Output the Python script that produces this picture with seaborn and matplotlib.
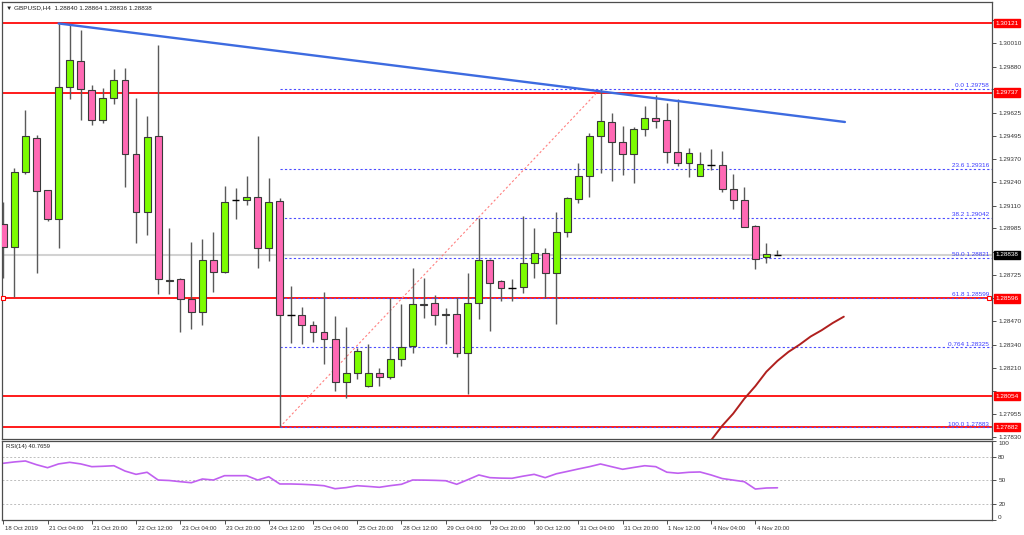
import matplotlib
matplotlib.use("Agg")
import matplotlib.pyplot as plt
import matplotlib.transforms as mtransforms
import seaborn as sns
import pandas as pd
import numpy as np

sns.set_theme(style="white")
plt.rcParams["font.family"] = ["Liberation Sans", "DejaVu Sans"]

# GBPUSD H4 candles, bar 0 = 18 Oct 12:00
opens = [1.29007, 1.28883, 1.29295, 1.29484, 1.29195, 1.29035, 1.29770, 1.29912, 1.29751, 1.29585,
         1.29705, 1.29808, 1.29398, 1.29073, 1.29496, 1.28694, 1.28702, 1.28593, 1.28523, 1.28811,
         1.28741, 1.29142, 1.29140, 1.29160, 1.28876, 1.29136, 1.28505, 1.28504, 1.28447, 1.28412,
         1.28370, 1.28131, 1.28185, 1.28112, 1.28185, 1.28159, 1.28260, 1.28333, 1.28567, 1.28573,
         1.28504, 1.28512, 1.28292, 1.28569, 1.28809, 1.28693, 1.28656, 1.28658, 1.28791, 1.28846,
         1.28735, 1.28966, 1.29147, 1.29276, 1.29496, 1.29572, 1.29461, 1.29397, 1.29534, 1.29596,
         1.29583, 1.29406, 1.29345, 1.29276, 1.29337, 1.29336, 1.29203, 1.29142, 1.28998, 1.28826,
         1.28840]
highs = [1.29132, 1.29317, 1.29640, 1.29502, 1.29197, 1.30120, 1.30111, 1.30084, 1.29781, 1.29762,
         1.29866, 1.29872, 1.29705, 1.29607, 1.30001, 1.28985, 1.28711, 1.28911, 1.28924, 1.28966,
         1.29219, 1.29210, 1.29275, 1.29496, 1.29265, 1.29151, 1.28665, 1.28550, 1.28473, 1.28630,
         1.28500, 1.28439, 1.28320, 1.28342, 1.28212, 1.28597, 1.28564, 1.28763, 1.28711, 1.28614,
         1.28541, 1.28606, 1.28735, 1.29043, 1.28815, 1.28698, 1.28705, 1.29053, 1.28988, 1.28874,
         1.29073, 1.29160, 1.29345, 1.29515, 1.29758, 1.29625, 1.29552, 1.29548, 1.29663, 1.29724,
         1.29681, 1.29700, 1.29428, 1.29406, 1.29424, 1.29413, 1.29284, 1.29212, 1.29003, 1.28905,
         1.28864]
lows = [1.28709, 1.28606, 1.29286, 1.28735, 1.29025, 1.28874, 1.29700, 1.29585, 1.29557, 1.29570,
        1.29672, 1.29215, 1.28902, 1.28948, 1.28621, 1.28621, 1.28412, 1.28427, 1.28449, 1.28633,
        1.28737, 1.29035, 1.29114, 1.28763, 1.28805, 1.27883, 1.28347, 1.28342, 1.28353, 1.28231,
        1.28085, 1.28042, 1.28150, 1.28107, 1.28112, 1.28150, 1.28222, 1.28292, 1.28486, 1.28449,
        1.28344, 1.28270, 1.28065, 1.28480, 1.28417, 1.28582, 1.28582, 1.28628, 1.28708, 1.28597,
        1.28454, 1.28938, 1.29123, 1.29157, 1.29290, 1.29247, 1.29280, 1.29234, 1.29496, 1.29539,
        1.29348, 1.29332, 1.29267, 1.29276, 1.29308, 1.29184, 1.29090, 1.28990, 1.28759, 1.28794,
        1.28836]
closes = [1.28883, 1.29298, 1.29496, 1.29193, 1.29035, 1.29770, 1.29916, 1.29755, 1.29583, 1.29705,
          1.29808, 1.29397, 1.29075, 1.29492, 1.28704, 1.28698, 1.28593, 1.28523, 1.28807, 1.28741,
          1.29129, 1.29142, 1.29160, 1.28876, 1.29132, 1.28504, 1.28505, 1.28447, 1.28412, 1.28370,
          1.28131, 1.28185, 1.28303, 1.28185, 1.28159, 1.28260, 1.28329, 1.28567, 1.28558, 1.28504,
          1.28512, 1.28292, 1.28569, 1.28809, 1.28680, 1.28652, 1.28656, 1.28791, 1.28846, 1.28735,
          1.28966, 1.29151, 1.29275, 1.29496, 1.29578, 1.29461, 1.29397, 1.29534, 1.29596, 1.29581,
          1.29406, 1.29345, 1.29400, 1.29339, 1.29337, 1.29201, 1.29140, 1.28994, 1.28813, 1.28842,
          1.28838]
rsi = [71.8, 73.5, 74.7, 70.0, 66.2, 71.0, 73.0, 71.0, 67.5, 68.0,
       68.7, 62.0, 57.8, 60.4, 50.6, 50.0, 48.5, 47.2, 51.9, 50.6,
       56.1, 56.1, 56.1, 50.6, 54.8, 45.6, 45.6, 45.2, 44.5, 43.4,
       39.6, 41.0, 43.4, 42.5, 41.4, 43.5, 45.2, 50.6, 50.5, 50.2,
       49.7, 45.2, 51.0, 57.0, 53.6, 53.0, 52.8, 55.5, 57.8, 53.6,
       58.5, 61.5, 64.6, 67.5, 70.9, 67.5, 64.2, 66.5, 68.7, 67.5,
       60.5, 59.2, 60.4, 60.8, 57.0, 52.5, 50.5, 48.5, 39.2, 40.5,
       40.77]

# shifted moving average (dark red curve)
ma_bar = [64, 65, 66, 67, 68, 69, 70, 71, 72, 73, 74, 75, 76]
ma_val = [1.27810, 1.27890, 1.27958, 1.28040, 1.28110, 1.28190, 1.28250, 1.28300, 1.28340,
          1.28385, 1.28420, 1.28460, 1.28495]

date_labels = ["18 Oct 2019", "21 Oct 04:00", "21 Oct 20:00", "22 Oct 12:00", "23 Oct 04:00",
               "23 Oct 20:00", "24 Oct 12:00", "25 Oct 04:00", "25 Oct 20:00", "28 Oct 12:00",
               "29 Oct 04:00", "29 Oct 20:00", "30 Oct 12:00", "31 Oct 04:00", "31 Oct 20:00",
               "1 Nov 12:00", "4 Nov 04:00", "4 Nov 20:00"]
price_ticks = [1.30140, 1.30010, 1.29880, 1.29755, 1.29625, 1.29495, 1.29370, 1.29240, 1.29110,
               1.28985, 1.28855, 1.28725, 1.28600, 1.28470, 1.28340, 1.28210, 1.28085, 1.27955,
               1.27830]
# ticks whose labels sit under the price boxes
hidden_ticks = [1.30140, 1.29755, 1.28855, 1.28600, 1.28085]
red_levels = [1.30121, 1.29737, 1.28596, 1.28054, 1.27882]
last_price = 1.28838
trend_x = [5, 76.1]
trend_y = [1.30120, 1.29574]
fib_x = [25, 54]
fib_y = [1.27883, 1.29758]
fib_names = ["0.0", "23.6", "38.2", "50.0", "61.8", "0.764", "100.0"]
fib_levels = [1.29758, 1.29316, 1.29042, 1.28821, 1.28599, 1.28325, 1.27883]

bars = pd.DataFrame({"bar": np.arange(len(opens)), "open": opens, "high": highs,
                     "low": lows, "close": closes, "rsi": rsi})

fig = plt.figure(figsize=(10.24, 5.35), dpi=100)
ax = fig.add_axes([0.00195, 0.17944, 0.9668, 0.81682])
ax2 = fig.add_axes([0.00195, 0.02804, 0.9668, 0.14766], sharex=ax)

# horizontal levels
ax.axhline(last_price, color="#d2d2d2", lw=1.5, zorder=1)
for lv in red_levels:
    ax.axhline(lv, color="#ff1a1a", lw=1.4, zorder=2)
ax.hlines(fib_levels, fib_x[0], 89.4, colors="#4d4dff", lw=0.8, linestyles=(0, (2, 2)), zorder=2)
ax.plot(fib_x, fib_y, color="#ff8080", lw=0.8, ls=(0, (2, 2)), zorder=2)

# candles
up = bars.close > bars.open
body_lo = bars[["open", "close"]].min(axis=1)
body_h = (bars.close - bars.open).abs()
doji = body_h < 0.00003
ax.vlines(bars.bar, bars.low, bars.high, color="#5a5a5a", lw=1.0, zorder=3)
ax.bar(bars.bar[~doji], body_h[~doji], bottom=body_lo[~doji], width=0.62,
       color=np.where(up[~doji], "#7cfc00", "#ff69b4"), edgecolor="#3a3a3a", linewidth=0.8, zorder=4)
ax.hlines(bars.close[doji], bars.bar[doji] - 0.33, bars.bar[doji] + 0.33, color="black", lw=1.0, zorder=4)

ax.plot(trend_x, trend_y, color="#3d6be0", lw=1.7, zorder=5)
sns.lineplot(x=ma_bar, y=ma_val, ax=ax, color="#b0201e", lw=1.4, zorder=5)
ax.plot([0, 89.15], [red_levels[2]] * 2, ls="none", marker="s", ms=3, mfc="white",
        mec="red", mew=0.8, zorder=6, clip_on=False)

ax.set_xlim(-0.12, 89.4)
ax.set_ylim(1.27817, 1.30239)
ax.set_xlabel("")
ax.set_ylabel("")
ax.yaxis.tick_right()
ax.set_yticks(price_ticks)
ax.set_yticklabels(["" if t in hidden_ticks else f"{t:.5f}" for t in price_ticks])
ax.tick_params(axis="y", right=True, left=False, labelright=True, labelsize=4.6, length=3,
               width=0.6, pad=1.5, colors="#333333", direction="out")
ax.tick_params(axis="x", bottom=False, top=False, labelbottom=False)

trans = mtransforms.blended_transform_factory(ax.transAxes, ax.transData)
for name, lv in zip(fib_names, fib_levels):
    ax.text(0.997, lv + 0.00003, f"{name} {lv:.5f}", transform=trans, fontsize=4.6,
            color="#3b3bff", ha="right", va="bottom", zorder=7)
box = dict(boxstyle="square,pad=0.25", fc="#ff0000", ec="#ff0000")
for lv in red_levels:
    ax.text(1.0035, lv, f"{lv:.5f}", transform=trans, fontsize=4.6, color="white", va="center",
            ha="left", bbox=box, zorder=10, clip_on=False)
ax.text(1.0035, last_price, f"{last_price:.5f}", transform=trans, fontsize=4.6, color="white",
        va="center", ha="left", bbox=dict(boxstyle="square,pad=0.25", fc="black", ec="black"),
        zorder=10, clip_on=False)
ax.text(0.004, 0.993, "\u25bc GBPUSD,H4  1.28840 1.28864 1.28836 1.28838", transform=ax.transAxes,
        fontsize=4.6, va="top", ha="left", color="#222222")

# RSI panel
for g in (20, 50, 80):
    ax2.axhline(g, color="#bdbdbd", lw=0.7, ls=(0, (2, 2)))
sns.lineplot(data=bars, x="bar", y="rsi", ax=ax2, color="#c060f0", lw=1.2)
ax2.set_ylim(0, 100)
ax2.set_xlabel("")
ax2.set_ylabel("")
ax2.yaxis.tick_right()
ax2.set_yticks([0, 20, 50, 80, 100])
ax2.tick_params(axis="y", right=True, left=False, labelright=True, labelsize=4.6, length=3,
                width=0.6, pad=1.5, colors="#333333")
yt = ax2.yaxis.get_major_ticks()
yt[0].label2.set_va("bottom")
yt[-1].label2.set_va("top")
ax2.set_xticks(np.arange(0, 72, 4))
ax2.set_xticklabels(date_labels)
ax2.tick_params(axis="x", bottom=True, labelbottom=True, labelsize=4.3, length=3, width=0.6,
                pad=1, colors="#333333")
offset = mtransforms.ScaledTranslation(1.5 / 100, 0, fig.dpi_scale_trans)
for lab in ax2.get_xticklabels():
    lab.set_ha("left")
    lab.set_transform(lab.get_transform() + offset)
ax2.text(0.004, 0.96, "RSI(14) 40.7659", transform=ax2.transAxes, fontsize=4.3, va="top",
         ha="left", color="#222222")

for a in (ax, ax2):
    for sp in a.spines.values():
        sp.set_color("#4d4d4d")
        sp.set_linewidth(0.9)

fig.savefig("out.png", dpi=100)
